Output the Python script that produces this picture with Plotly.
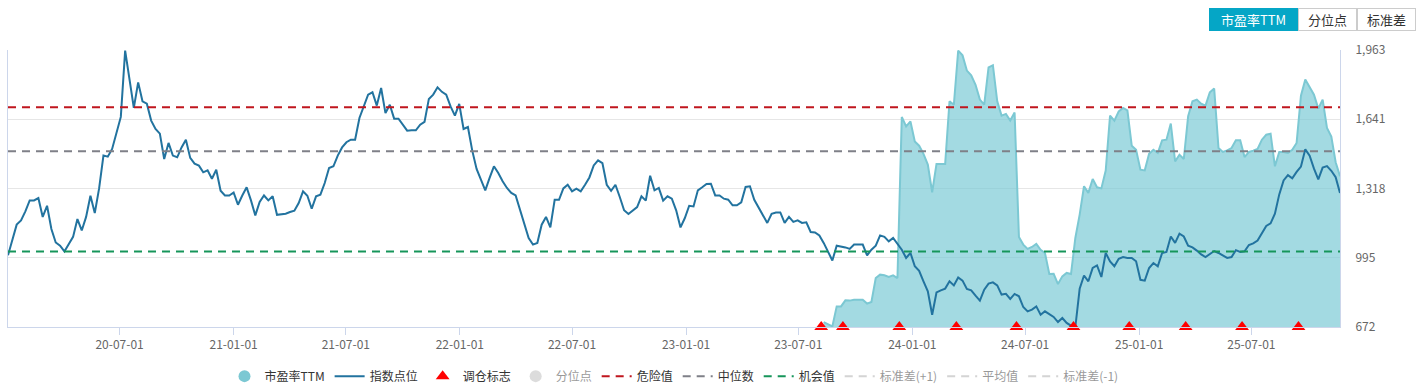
import pandas as pd
import plotly.graph_objects as go

# weekly dates (Fridays)
start_date = "2020-01-03"
index_values = [
    1006, 1079, 1149, 1169, 1211, 1262, 1262, 1273, 1185, 1237,
    1129, 1066, 1051, 1024, 1060, 1092, 1175, 1122, 1185, 1284,
    1203, 1318, 1471, 1466, 1502, 1581, 1651, 1960, 1825, 1693,
    1812, 1724, 1713, 1634, 1595, 1573, 1455, 1530, 1471, 1463,
    1509, 1545, 1460, 1433, 1424, 1393, 1402, 1363, 1405, 1307,
    1285, 1285, 1299, 1242, 1285, 1323, 1262, 1192, 1255, 1285,
    1262, 1281, 1195, 1197, 1200, 1208, 1214, 1250, 1304, 1284,
    1223, 1281, 1289, 1343, 1413, 1421, 1471, 1509, 1533, 1545,
    1545, 1646, 1704, 1755, 1766, 1704, 1786, 1669, 1708, 1643,
    1643, 1615, 1587, 1589, 1589, 1615, 1628, 1735, 1755, 1789,
    1768, 1755, 1700, 1657, 1712, 1595, 1604, 1494, 1409, 1359,
    1309, 1367, 1421, 1390, 1351, 1320, 1297, 1285, 1216, 1149,
    1087, 1056, 1064, 1149, 1185, 1136, 1265, 1265, 1318, 1335,
    1304, 1317, 1304, 1335, 1369, 1425, 1449, 1436, 1335, 1307,
    1335, 1278, 1216, 1199, 1216, 1231, 1281, 1261, 1377, 1309,
    1320, 1261, 1281, 1270, 1216, 1136, 1180, 1237, 1234, 1309,
    1323, 1339, 1340, 1285, 1285, 1270, 1265, 1239, 1239, 1253,
    1325, 1328, 1265, 1227, 1188, 1157, 1200, 1206, 1206, 1157,
    1185, 1162, 1169, 1157, 1160, 1115, 1113, 1099, 1064, 1024,
    982, 1051, 1048, 1043, 1036, 1056, 1056, 1056, 1006, 1032,
    1051, 1099, 1092, 1071, 1087, 1059, 1032, 994, 1017, 955,
    934, 885, 838, 729, 833, 843, 851, 885, 866, 903,
    888, 849, 843, 818, 795, 846, 874, 880, 866, 823,
    827, 803, 826, 815, 765, 745, 753, 768, 729, 745,
    733, 719, 695, 714, 691, 678, 672, 850, 912, 885,
    947, 959, 905, 1017, 978, 955, 990, 998, 994, 994,
    978, 892, 888, 947, 970, 955, 1017, 1022, 1094, 1064,
    1107, 1094, 1051, 1043, 1028, 1010, 998, 1012, 1026, 1017,
    1007, 994, 998, 1030, 1022, 1025, 1054, 1062, 1075, 1110,
    1143, 1155, 1200, 1290, 1355, 1380, 1365, 1395, 1420, 1500,
    1470, 1410, 1360, 1415, 1422, 1400, 1370, 1297,
]
# PE TTM series starts at week 188
pe_start_week = 188
pe_values = [
    695, 685, 675, 768, 768, 796, 795, 799, 799, 799,
    781, 789, 900, 916, 913, 905, 913, 900, 1651, 1607,
    1630, 1537, 1517, 1479, 1429, 1300, 1432, 1432, 1432, 1724,
    1708, 1960, 1938, 1867, 1845, 1801, 1732, 1708, 1882, 1892,
    1724, 1657, 1665, 1634, 1672, 1092, 1056, 1036, 1045, 1059,
    1032, 1017, 919, 920, 872, 908, 924, 919, 1087, 1196,
    1328, 1297, 1362, 1323, 1318, 1401, 1657, 1634, 1677, 1693,
    1682, 1517, 1498, 1405, 1402, 1479, 1498, 1483, 1542, 1545,
    1620, 1444, 1475, 1455, 1654, 1724, 1732, 1713, 1704, 1766,
    1783, 1506, 1488, 1495, 1506, 1542, 1542, 1464, 1488, 1494,
    1502, 1545, 1568, 1573, 1421, 1488, 1488, 1483, 1498, 1530,
    1750, 1825, 1790, 1755, 1690, 1732, 1600, 1560, 1440, 1375,
]
signal_dates = ["2023-08-07", "2023-09-11", "2023-12-11", "2024-03-12", "2024-06-17",
                "2024-09-17", "2024-12-16", "2025-03-17", "2025-06-16", "2025-09-15"]
danger_value = 1696
median_value = 1491
chance_value = 1024
y_ticks = [672, 995, 1318, 1641, 1963]
x_ticks = ["2020-07-01", "2021-01-01", "2021-07-01", "2022-01-01", "2022-07-01", "2023-01-01",
           "2023-07-01", "2024-01-01", "2024-07-01", "2025-01-01", "2025-07-01"]
buttons = ["市盈率TTM", "分位点", "标准差"]

dates = pd.date_range(start_date, periods=len(index_values), freq="7D")
pe_dates = dates[pe_start_week:pe_start_week + len(pe_values)]
x0, x1 = dates[0], dates[-1]

FONT = "Noto Sans CJK SC, sans-serif"
fig = go.Figure()

fig.add_trace(go.Scatter(x=pe_dates, y=pe_values, mode="lines", fill="tozeroy",
                         line=dict(color="#7cc8d3", width=2),
                         fillcolor="rgba(120,200,212,0.68)", showlegend=False, name="市盈率TTM"))
fig.add_trace(go.Scatter(x=[None], y=[None], mode="markers", name="市盈率TTM",
                         marker=dict(symbol="circle", size=12, color="#7cc8d3")))
fig.add_trace(go.Scatter(x=dates, y=index_values, mode="lines", name="指数点位",
                         line=dict(color="#22739f", width=2)))
fig.add_trace(go.Scatter(x=signal_dates, y=[y_ticks[0]] * len(signal_dates), mode="markers",
                         name="调仓标志", cliponaxis=False,
                         marker=dict(symbol="triangle-up", size=12, color="#ff0000")))
fig.add_trace(go.Scatter(x=[None], y=[None], mode="markers", name="分位点", visible="legendonly",
                         marker=dict(symbol="circle", size=12, color="#bbbbbb")))
for nm, val, col in [("危险值", danger_value, "#c0161e"), ("中位数", median_value, "#7f8088"),
                     ("机会值", chance_value, "#16955a")]:
    fig.add_trace(go.Scatter(x=[x0, x1], y=[val, val], mode="lines", name=nm,
                             line=dict(color=col, width=2, dash="8px,6px")))
for nm in ["标准差(+1)", "平均值", "标准差(-1)"]:
    fig.add_trace(go.Scatter(x=[None], y=[None], mode="lines", name=nm, visible="legendonly",
                             line=dict(color="#aaaaaa", width=2, dash="8px,6px")))

# top-right buttons
L, R, T, B = 8, 80, 50, 65
W, H = 1420 - L - R, 392 - T - B
btn_px = [(1209, 89), (1298, 59), (1357, 59)]
for i, (txt, (bx, bw)) in enumerate(zip(buttons, btn_px)):
    active = i == 0
    fig.add_annotation(xref="paper", yref="paper", x=(bx - L) / W, y=(392 - B - 8) / H,
                       xanchor="left", yanchor="top", text=txt, showarrow=False,
                       width=bw - 2, height=21, borderpad=0, borderwidth=1,
                       bordercolor="#05a6c6" if active else "#cccccc",
                       bgcolor="#05a6c6" if active else "#ffffff",
                       font=dict(family=FONT, size=13, color="#ffffff" if active else "#333333"))

fig.update_layout(
    width=1420, height=392, margin=dict(l=L, r=R, t=T, b=B, autoexpand=False),
    paper_bgcolor="#ffffff", plot_bgcolor="#ffffff",
    font=dict(family=FONT, size=12, color="#666666"),
    showlegend=True,
    legend=dict(orientation="h", x=0.5, xanchor="center", y=-0.125, yanchor="top",
                font=dict(family=FONT, size=12, color="#333333"), itemwidth=30,
                traceorder="normal"),
    xaxis=dict(type="date", range=[x0, x1], tickvals=x_ticks, tickformat="%y-%m-%d",
               showgrid=False, showline=True, linecolor="#ccd6eb", linewidth=1,
               ticks="outside", ticklen=7, tickcolor="#ccd6eb",
               tickfont=dict(family=FONT, size=12, color="#666666"), zeroline=False),
    yaxis=dict(range=[y_ticks[0], y_ticks[-1]], side="right", tickvals=y_ticks, tickformat=",d",
               showgrid=True, gridcolor="#e6e6e6", gridwidth=1, zeroline=False,
               showline=True, mirror=True, linecolor="#ccd6eb", linewidth=1,
               ticks="", ticklabelstandoff=12,
               tickfont=dict(family=FONT, size=12, color="#666666")),
)
fig.write_html("out.html")
